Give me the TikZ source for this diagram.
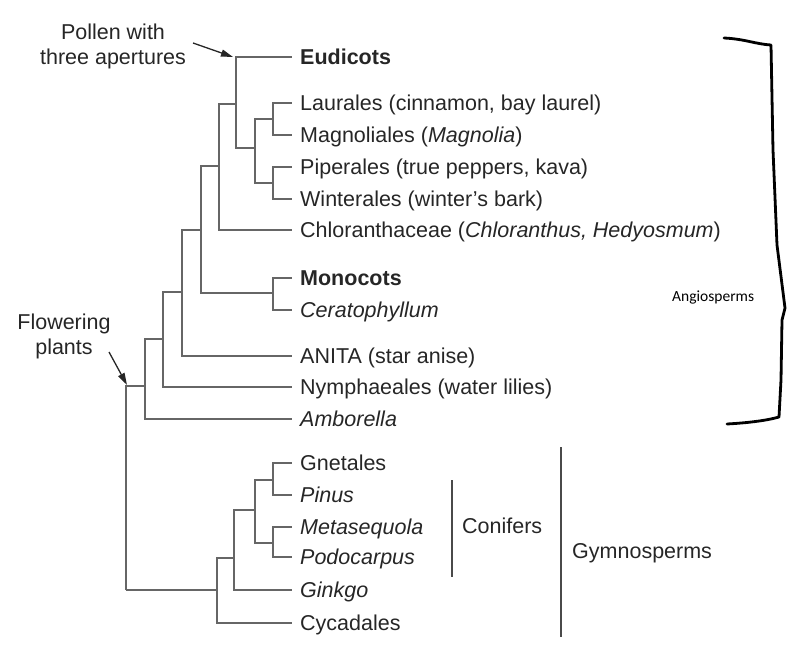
\documentclass[tikz,border=0pt]{standalone}
\usepackage{fontspec}
\setmainfont{Liberation Sans}
\newfontfamily\notefont{Carlito}
\usepackage{xcolor}
\definecolor{cLine}{HTML}{666666}
\definecolor{cText}{HTML}{262626}
\definecolor{cBar}{HTML}{4A4A4A}
\usetikzlibrary{arrows.meta}
\tikzset{
  leaf/.style={anchor=west,inner xsep=8pt,inner ysep=0pt,text=cText,
    font=\fontsize{21.5}{24}\selectfont,text height=19.5pt,text depth=4pt},
  branch/.style={draw=cLine,line width=1.5pt},
  clade-bar/.style={draw=cBar,line width=1.6pt},
  clade-label/.style={anchor=west,inner sep=0pt,text=cText,
    font=\fontsize{21.5}{24}\selectfont},
  note/.style={align=center,inner sep=0pt,text=cText,
    font=\fontsize{21.5}{25}\selectfont},
  note-arrow/.style={-{Triangle[length=12pt,width=7pt]},line width=1.3pt,draw=black!85},
  brace-line/.style={draw=black,line width=2.8pt,line cap=round,line join=round},
}

\begin{document}
\begin{tikzpicture}[x=1pt,y=-1pt]
  \useasboundingbox (0,0) rectangle (806,669);
  % inner nodes of the tree
  \foreach \name/\x/\y in {root/126/590, ang/145/386, nym/163/339, ani/182/292,
      mes/201/230, mon/273/293, eu/219/166, tri/236/104, mag/255/148,
      lm/273/119, pw/273/183, gym/217/590, gk/234/558, con/255/510,
      gp/273/480, mp/273/543}
    \coordinate (\name) at (\x,\y);
  % leaves
  \foreach \name/\y/\txt in {eud/57/\textbf{Eudicots},
      laur/103/{Laurales (cinnamon, bay laurel)},
      magn/135/{Magnoliales (\textit{Magnolia})},
      pip/167/{Piperales (true peppers, kava)},
      wint/199/{Winterales (winter’s bark)},
      chl/230/{Chloranthaceae (\textit{Chloranthus, Hedyosmum})},
      mono/278/\textbf{Monocots}, cera/310/\textit{Ceratophyllum},
      anita/356/{ANITA (star anise)}, nyp/387/{Nymphaeales (water lilies)},
      amb/419/\textit{Amborella},
      gne/463/Gnetales, pin/495/\textit{Pinus}, met/527/\textit{Metasequola},
      pod/557/\textit{Podocarpus}, gin/590/\textit{Ginkgo}, cyc/623/Cycadales}
    \node[leaf] (\name) at (292,\y) {\txt};
  % branches
  \foreach \a/\b in {root/ang, root/gym, ang/nym, nym/ani, ani/mes, mes/eu,
      mes/mon, eu/tri, tri/mag, mag/lm, mag/pw, gym/gk, gk/con, con/gp, con/mp}
    \draw[branch] (\a) |- (\b);
  \foreach \a/\b in {ang/amb, nym/nyp, ani/anita, mon/mono, mon/cera, eu/chl,
      tri/eud, lm/laur, lm/magn, pw/pip, pw/wint, gym/cyc, gk/gin, gp/gne,
      gp/pin, mp/met, mp/pod}
    \draw[branch] (\a) |- (\b.west);

  % clade bars
  \node[clade-label] (conifers) at (462,526) {Conifers};
  \node[clade-label] (gymno) at (572,553) {Gymnosperms};
  \coordinate (con-top) at (452,480);
  \coordinate (con-bot) at (452,577);
  \coordinate (gym-top) at (561,447);
  \coordinate (gym-bot) at (561,637);
  \draw[clade-bar] (con-top) -- (con-bot);
  \draw[clade-bar] (gym-top) -- (gym-bot);

  % notes with arrows
  \node[note] (pollen) at (113,46) {Pollen with\\three apertures};
  \coordinate (pollen-tail) at (193,43);
  \coordinate (pollen-tip) at (233,57);
  \draw[note-arrow] (pollen-tail) -- (pollen-tip);
  \node[note] (flower) at (64,336) {Flowering\\plants};
  \coordinate (flower-tail) at (109,352);
  \coordinate (flower-tip) at (127,385);
  \draw[note-arrow] (flower-tail) -- (flower-tip);

  % hand drawn brace
  \draw[brace-line] (724,38) .. controls (745,39) and (755,44) .. (771,45)
    -- (773,150) -- (777,245) -- (785,308) -- (782,320) -- (781,380)
    -- (779,417) .. controls (765,421) and (745,423) .. (727,424);
  \node[anchor=west,inner sep=0pt,font=\notefont\fontsize{15.5}{18}\selectfont]
    (angio) at (672,297) {Angiosperms};
\end{tikzpicture}
\end{document}
